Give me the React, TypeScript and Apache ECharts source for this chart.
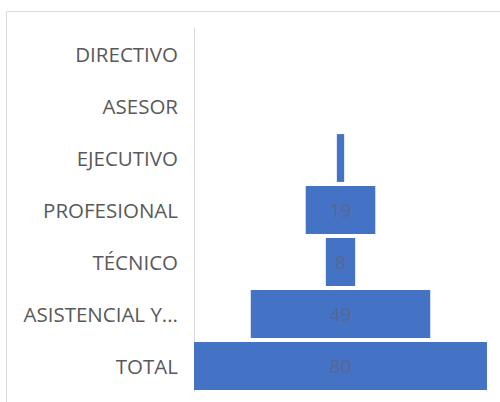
import React, { useEffect, useRef } from "react";
import * as echarts from "echarts";

const categories = ["DIRECTIVO", "ASESOR", "EJECUTIVO", "PROFESIONAL", "TÉCNICO", "ASISTENCIAL Y...", "TOTAL"];
const values = [0, 0, 2, 19, 8, 49, 80];

export default function App() {
  const ref = useRef<HTMLDivElement>(null);
  useEffect(() => {
    if (!ref.current) return;
    const chart = echarts.init(ref.current, null, { renderer: "svg" });
    const maxV = Math.max(...values);
    const offsets = values.map((v) => (maxV - v) / 2);
    chart.setOption({
      animation: false,
      backgroundColor: "#ffffff",
      graphic: [
        {
          type: "rect",
          shape: { x: 6.5, y: 11.5, width: 500, height: 400 },
          style: { fill: "none", stroke: "#d9d9d9", lineWidth: 1 },
          silent: true,
        },
      ],
      grid: { left: 194, right: 13, top: 28, bottom: 10, containLabel: false },
      xAxis: { type: "value", min: 0, max: maxV, show: false },
      yAxis: {
        type: "category",
        data: categories,
        inverse: true,
        axisLine: { show: true, lineStyle: { color: "#d9d9d9", width: 1 } },
        axisTick: { show: false },
        axisLabel: {
          color: "#595959",
          fontSize: 20.5,
          fontFamily: "Open Sans",
          margin: 16,
        },
        splitLine: { show: false },
      },
      series: [
        {
          type: "bar",
          stack: "f",
          data: offsets,
          itemStyle: { color: "transparent" },
          barCategoryGap: "8%",
          silent: true,
        },
        {
          type: "bar",
          stack: "f",
          data: values,
          barCategoryGap: "8%",
          itemStyle: { color: "#4472c4" },
          label: {
            show: true,
            position: "inside",
            fontSize: 19,
            fontFamily: "Open Sans",
            color: "#5a6690",
            formatter: (p: any) => (p.value >= 5 ? String(p.value) : ""),
          },
        },
      ],
    });
    return () => chart.dispose();
  }, []);
  return (
    <div
      ref={ref}
      style={{ position: "fixed", left: 0, top: 0, width: 500, height: 402 }}
    />
  );
}
